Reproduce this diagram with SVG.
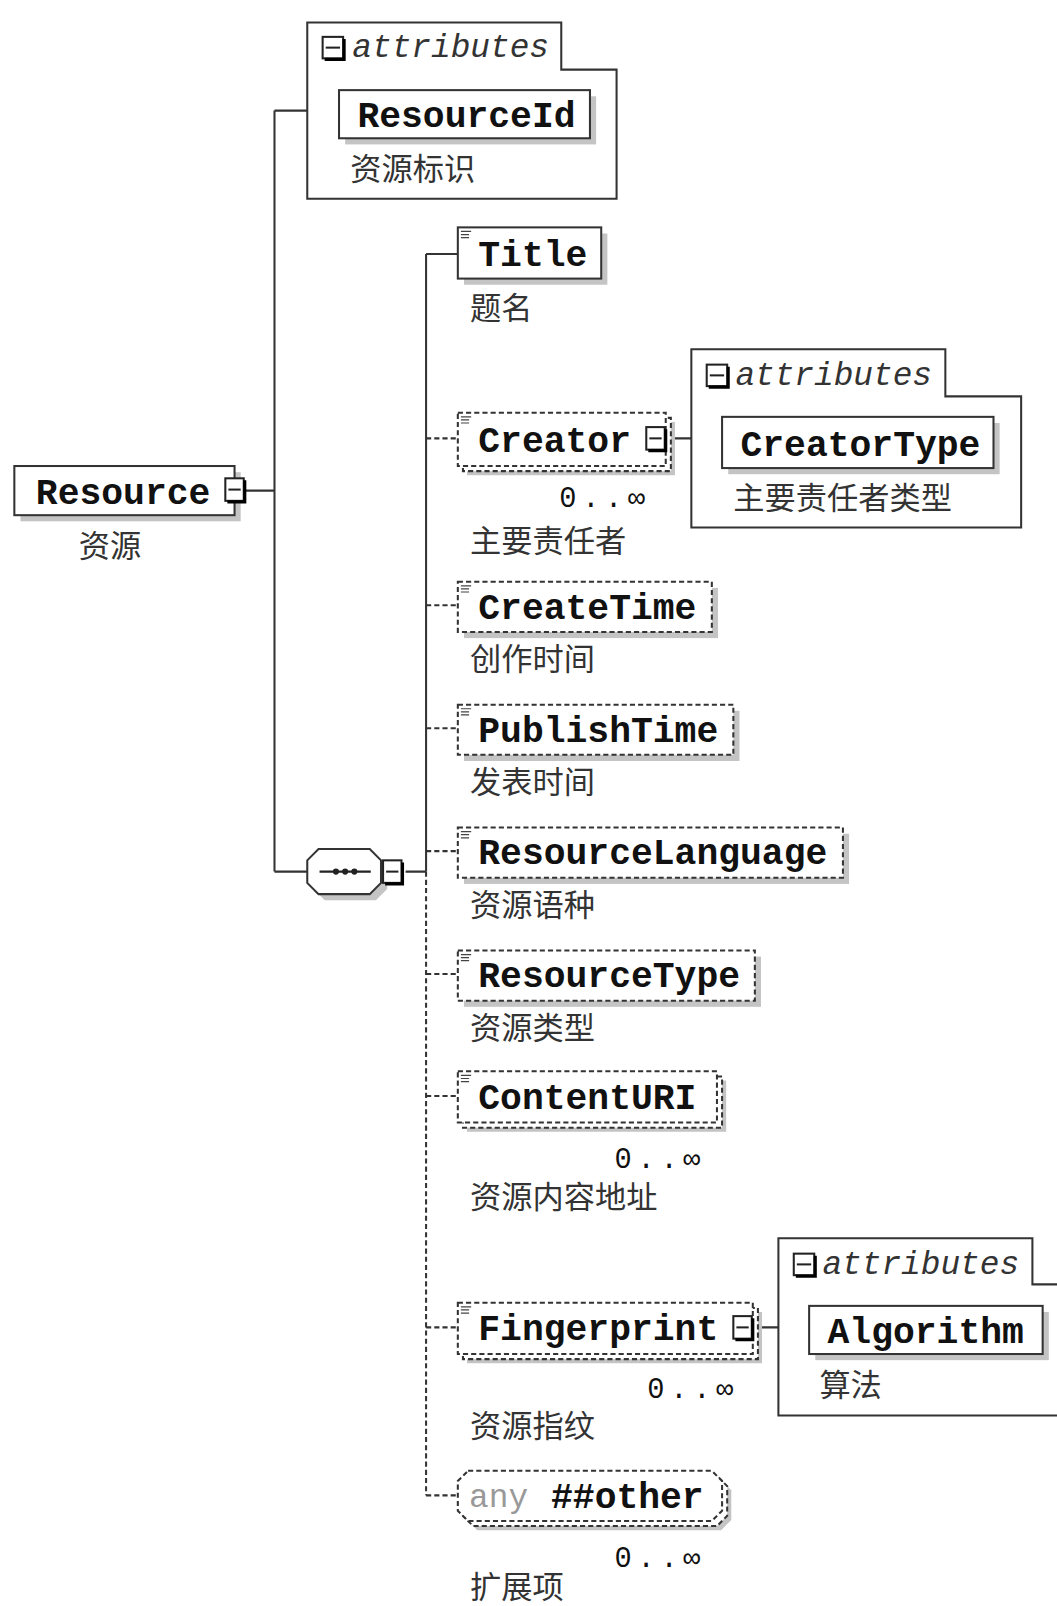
<svg xmlns="http://www.w3.org/2000/svg" width="1057" height="1606" viewBox="0 0 1057 1606">
<style>
.ln{stroke:#333;stroke-width:2;fill:none}
.dl{stroke:#333;stroke-width:2;fill:none;stroke-dasharray:5 3}
.box{fill:#fff;stroke:#333;stroke-width:2}
.dbox{fill:#fff;stroke:#333;stroke-width:2;stroke-dasharray:5 3}
.sh{fill:#c4c4c4}
.nm{font-family:"Liberation Mono",monospace;font-weight:bold;font-size:35.5px;fill:#111}
.at{font-family:"Liberation Mono",monospace;font-style:italic;font-size:32px;fill:#333}
.cn{font-family:"Noto Sans CJK SC",sans-serif;font-size:30.5px;fill:#333}
.mul{font-family:"Liberation Mono",monospace;font-size:28px;fill:#111}
.any{font-family:"Liberation Mono",monospace;font-size:32px;fill:#999}
</style>
<defs>
<g id="mb"><rect x="0" y="0" width="18" height="22" fill="#fff" stroke="#222" stroke-width="2"/><line x1="3" y1="11" x2="15" y2="11" stroke="#222" stroke-width="2"/><path d="M19 2 V23 H2" stroke="#000" stroke-width="3" fill="none"/></g>
<g id="hb"><rect x="0" y="0" width="20" height="21" fill="#fff" stroke="#222" stroke-width="2"/><line x1="3" y1="10.5" x2="17" y2="10.5" stroke="#222" stroke-width="2"/><path d="M21 2 V22 H2" stroke="#000" stroke-width="3" fill="none"/></g>
<g id="ic"><path d="M0 0 H10 M0 3 H8 M0 6 H8" stroke="#444" stroke-width="1.2" fill="none"/></g>
</defs>
<rect width="1057" height="1606" fill="#fff"/>
<g transform="scale(1.02422)">

<g id="connectors">
<path class="ln" d="M240 479 H268 M268 108 V851 M268 108 H300 M268 851 H300"/>
<path class="ln" d="M396 851 H416 M416 248 V851 M416 248 H447"/>
<path class="dl" d="M416 851 V1460"/>
<path class="dl" d="M416 428 H447 M416 591 H447 M416 711 H447 M416 831 H447 M416 951 H447 M416 1070 H447 M416 1296 H447 M416 1460 H447"/>
<path class="ln" d="M652 428 H675 M738 1296 H760"/>
</g>

<g id="resource">
<rect class="sh" x="20" y="461" width="215" height="48"/>
<rect class="box" x="14" y="455" width="215" height="48"/>
<text class="nm" x="35" y="492">Resource</text>
<use href="#mb" x="220" y="467"/>
<text class="cn" x="77" y="544">资源</text>
</g>

<g id="attributes-resource">
<path class="box" d="M300 22 H548 V68 H602 V194 H300 Z"/>
<use href="#hb" x="315" y="36"/>
<text class="at" x="344" y="56">attributes</text>
<rect class="sh" x="337" y="94" width="245" height="47"/>
<rect class="box" x="331" y="88" width="245" height="47"/>
<text class="nm" x="349" y="124">ResourceId</text>
<text class="cn" x="342" y="176">资源标识</text>
</g>

<g id="sequence">
<polygon class="sh" points="317,835 367,835 378,846 378,868 367,879 317,879 306,868 306,846"/>
<polygon class="box" points="311,829 361,829 372,840 372,862 361,873 311,873 300,862 300,840"/>
<line x1="312" y1="851" x2="362" y2="851" stroke="#222" stroke-width="2"/>
<circle cx="328" cy="851" r="3" fill="#222"/><circle cx="337" cy="851" r="3" fill="#222"/><circle cx="346" cy="851" r="3" fill="#222"/>
<use href="#mb" x="374" y="840"/>
</g>

<g id="title">
<rect class="sh" x="453" y="228" width="140" height="50"/>
<rect class="box" x="447" y="222" width="140" height="50"/>
<use href="#ic" x="450" y="226"/>
<text class="nm" x="467" y="260">Title</text>
<text class="cn" x="459" y="311">题名</text>
</g>

<g id="creator">
<rect class="sh" x="456" y="412" width="203" height="52"/>
<rect class="dbox" x="452" y="408" width="203" height="52"/>
<rect class="dbox" x="447" y="403" width="203" height="52"/>
<use href="#ic" x="450" y="407"/>
<text class="nm" x="467" y="441">Creator</text>
<use href="#mb" x="631" y="417"/>
<text class="mul" x="546" y="495" textLength="84" lengthAdjust="spacing">0..∞</text>
<text class="cn" x="459" y="539">主要责任者</text>
</g>

<g id="attributes-creator">
<path class="box" d="M675 341 H923 V387 H997 V515 H675 Z"/>
<use href="#hb" x="690" y="356"/>
<text class="at" x="718" y="376">attributes</text>
<rect class="sh" x="711" y="413" width="265" height="50"/>
<rect class="box" x="705" y="407" width="265" height="50"/>
<text class="nm" x="723" y="445">CreatorType</text>
<text class="cn" x="716" y="497">主要责任者类型</text>
</g>

<g id="createtime">
<rect class="sh" x="453" y="574" width="248" height="49"/>
<rect class="dbox" x="447" y="568" width="248" height="49"/>
<use href="#ic" x="450" y="572"/>
<text class="nm" x="467" y="604">CreateTime</text>
<text class="cn" x="459" y="654">创作时间</text>
</g>

<g id="publishtime">
<rect class="sh" x="453" y="694" width="269" height="49"/>
<rect class="dbox" x="447" y="688" width="269" height="49"/>
<use href="#ic" x="450" y="692"/>
<text class="nm" x="467" y="724">PublishTime</text>
<text class="cn" x="459" y="774">发表时间</text>
</g>

<g id="resourcelanguage">
<rect class="sh" x="453" y="814" width="376" height="49"/>
<rect class="dbox" x="447" y="808" width="376" height="49"/>
<use href="#ic" x="450" y="812"/>
<text class="nm" x="467" y="844">ResourceLanguage</text>
<text class="cn" x="459" y="894">资源语种</text>
</g>

<g id="resourcetype">
<rect class="sh" x="453" y="934" width="290" height="49"/>
<rect class="dbox" x="447" y="928" width="290" height="49"/>
<use href="#ic" x="450" y="932"/>
<text class="nm" x="467" y="964">ResourceType</text>
<text class="cn" x="459" y="1014">资源类型</text>
</g>

<g id="contenturi">
<rect class="sh" x="456" y="1055" width="253" height="50"/>
<rect class="dbox" x="452" y="1051" width="253" height="50"/>
<rect class="dbox" x="447" y="1046" width="253" height="50"/>
<use href="#ic" x="450" y="1050"/>
<text class="nm" x="467" y="1083">ContentURI</text>
<text class="mul" x="600" y="1140" textLength="84" lengthAdjust="spacing">0..∞</text>
<text class="cn" x="459" y="1179">资源内容地址</text>
</g>

<g id="fingerprint">
<rect class="sh" x="456" y="1281" width="288" height="50"/>
<rect class="dbox" x="452" y="1277" width="288" height="50"/>
<rect class="dbox" x="447" y="1272" width="288" height="50"/>
<use href="#ic" x="450" y="1276"/>
<text class="nm" x="467" y="1308">Fingerprint</text>
<use href="#mb" x="716" y="1285"/>
<text class="mul" x="632" y="1365" textLength="84" lengthAdjust="spacing">0..∞</text>
<text class="cn" x="459" y="1403">资源指纹</text>
</g>

<g id="attributes-fingerprint">
<path class="box" d="M760 1209 H1008 V1254 H1045 V1382 H760 Z"/>
<use href="#hb" x="775" y="1224"/>
<text class="at" x="803" y="1244">attributes</text>
<rect class="sh" x="796" y="1281" width="228" height="47"/>
<rect class="box" x="790" y="1275" width="228" height="47"/>
<text class="nm" x="808" y="1311">Algorithm</text>
<text class="cn" x="800" y="1363">算法</text>
</g>

<g id="any-other">
<polygon class="sh" points="466,1445 704,1445 714,1455 714,1484 704,1494 466,1494 456,1484 456,1455"/>
<polygon class="dbox" points="462,1441 700,1441 710,1451 710,1480 700,1490 462,1490 452,1480 452,1451"/>
<polygon class="dbox" points="457,1436 695,1436 705,1446 705,1475 695,1485 457,1485 447,1475 447,1446"/>
<text class="any" x="458" y="1471">any</text>
<text class="nm" x="538" y="1472">##other</text>
<text class="mul" x="600" y="1530" textLength="84" lengthAdjust="spacing">0..∞</text>
<text class="cn" x="459" y="1560">扩展项</text>
</g>

</g>
</svg>
